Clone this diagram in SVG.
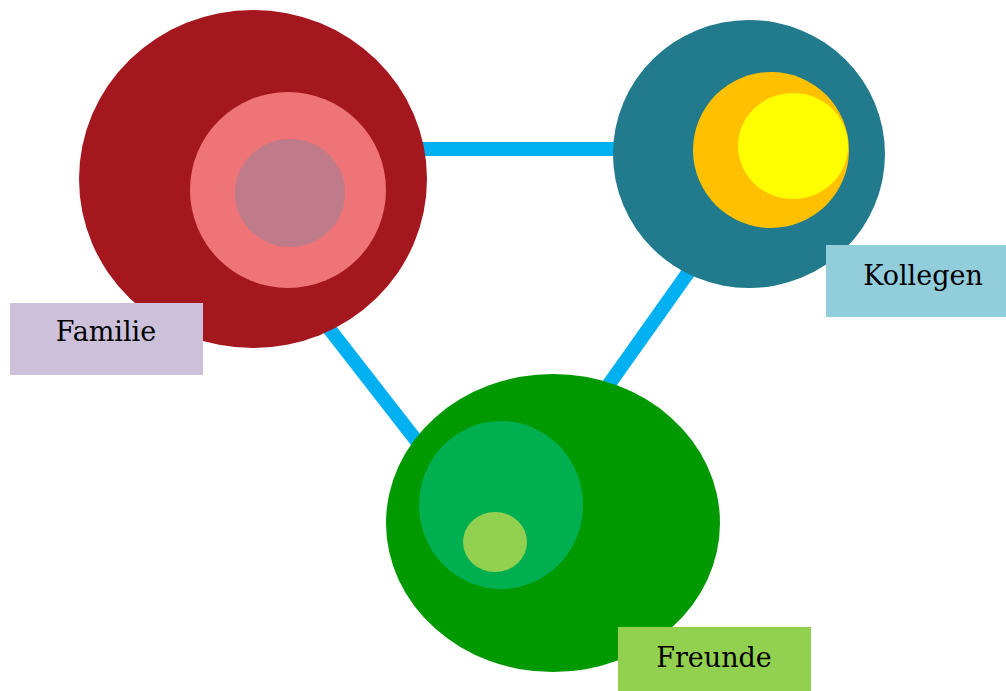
<svg xmlns="http://www.w3.org/2000/svg" width="1006" height="691" viewBox="0 0 1006 691">
<style>
.con{stroke:#00B0F0;stroke-width:14;fill:none}
.lbl{font-family:"DejaVu Serif","Liberation Serif",serif;font-size:27px;fill:#000;text-anchor:middle}
</style>
<rect width="1006" height="691" fill="#fff"/>
<g id="connectors">
<line class="con" x1="400" y1="149" x2="640" y2="149"/>
<line class="con" x1="310" y1="304" x2="440" y2="471"/>
<line class="con" x1="700" y1="256" x2="590" y2="411"/>
</g>
<g id="familie">
<ellipse cx="253" cy="179" rx="174" ry="169" fill="#A5171E"/>
<circle cx="288" cy="190" r="98" fill="#EE7478"/>
<ellipse cx="290" cy="193" rx="55" ry="54" fill="#BF7B8A"/>
<rect x="10" y="303" width="193" height="72" fill="#CCC0DA"/>
<text class="lbl" x="106" y="341">Familie</text>
</g>
<g id="kollegen">
<ellipse cx="749" cy="154" rx="136" ry="134" fill="#227A8D"/>
<circle cx="771" cy="150" r="78" fill="#FFC000"/>
<ellipse cx="793" cy="146" rx="55" ry="53" fill="#FFFF00"/>
<rect x="826" y="245" width="180" height="72" fill="#92CDDC"/>
<text class="lbl" x="923" y="285">Kollegen</text>
</g>
<g id="freunde">
<ellipse cx="553" cy="523" rx="167" ry="149" fill="#009900"/>
<ellipse cx="501" cy="505" rx="82" ry="84" fill="#00B050"/>
<ellipse cx="495" cy="542" rx="32" ry="30" fill="#92D050"/>
<rect x="618" y="627" width="193" height="64" fill="#92D050"/>
<text class="lbl" x="714" y="667">Freunde</text>
</g>
</svg>
